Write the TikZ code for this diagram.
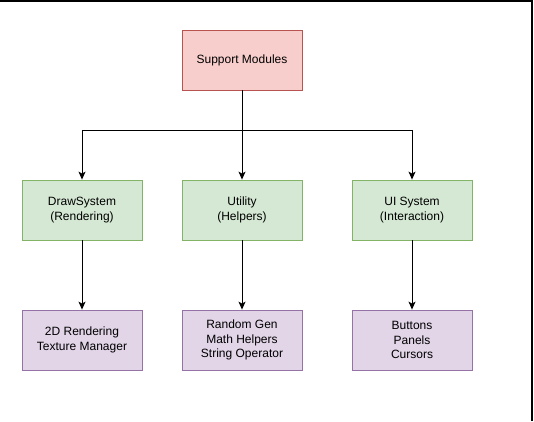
\documentclass[tikz,border=0pt]{standalone}
\usepackage{fontspec}
\setmainfont{Liberation Sans}
\usetikzlibrary{arrows.meta}
\begin{document}
\begin{tikzpicture}[x=1pt,y=-1pt,
  box/.style={draw,line width=0.8pt,minimum width=120pt,minimum height=60pt,inner sep=0pt,align=center,
    font=\fontsize{12}{14.4}\selectfont},
  redbox/.style={box,fill={rgb,255:red,248;green,206;blue,204},draw={rgb,255:red,184;green,84;blue,80}},
  greenbox/.style={box,fill={rgb,255:red,213;green,232;blue,212},draw={rgb,255:red,130;green,179;blue,102}},
  purplebox/.style={box,fill={rgb,255:red,225;green,213;blue,231},draw={rgb,255:red,150;green,115;blue,166}},
  conn/.style={line width=1pt,-{Stealth[length=8pt,width=7pt,inset=2pt]}},
  plain/.style={line width=1pt}]
\useasboundingbox (0,0) rectangle (534,421);
\draw[line width=1.6pt] (0,0.8) -- (531.7,0.8) -- (531.7,421);
\node[redbox] (sm) at (242,60) {Support Modules};
\node[greenbox] (ds) at (82,210) {DrawSystem\\(Rendering)};
\node[greenbox] (ut) at (242,210) {Utility\\(Helpers)};
\node[greenbox] (ui) at (412,210) {UI System\\(Interaction)};
\node[purplebox] (r2) at (82,340) {2D Rendering\\Texture Manager};
\node[purplebox] (rg) at (242,340) {Random Gen\\Math Helpers\\String Operator};
\node[purplebox] (bt) at (412,340) {Buttons\\Panels\\Cursors};
\coordinate (j) at (242,130);
\coordinate (jl) at (82,130);
\coordinate (jr) at (412,130);
\draw[plain] (sm.south) -- (j);
\draw[plain] (jl) -- (jr);
\draw[conn] (jl) -- (ds.north);
\draw[conn] (j) -- (ut.north);
\draw[conn] (jr) -- (ui.north);
\draw[conn] (ds) -- (r2);
\draw[conn] (ut) -- (rg);
\draw[conn] (ui) -- (bt);
\end{tikzpicture}
\end{document}
